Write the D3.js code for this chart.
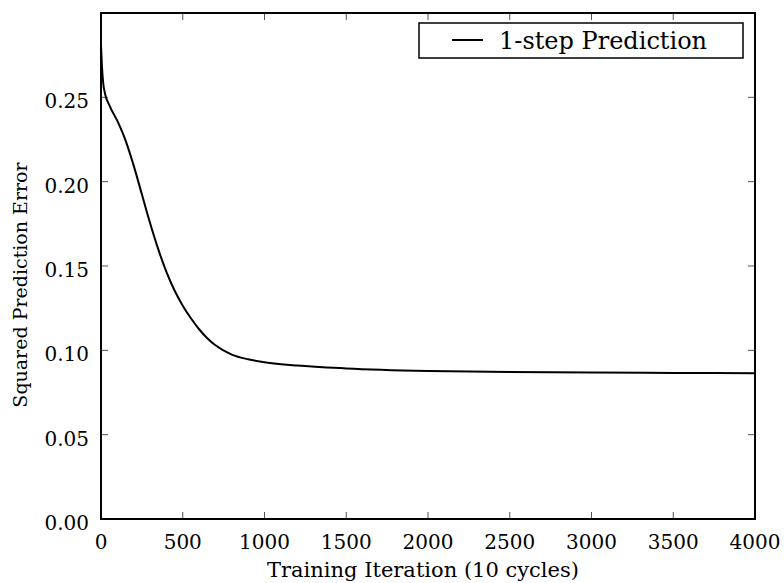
<!DOCTYPE html>
<html lang="en">
<head>
    <meta charset="UTF-8">
    <title>Squared Prediction Error</title>
    <script src="https://d3js.org/d3.v7.min.js"></script>
    <style>
        body { margin: 0; background: #fff; }
        text { font-family: "DejaVu Serif", serif; fill: #000; }
    </style>
</head>
<body>
    <svg width="784" height="583"></svg>
    <script>
        // values
        const iterations = [0, 6, 14, 25, 50, 100, 150, 200, 250, 300, 350, 400, 450, 500, 550, 600, 650, 700, 800, 900, 1000, 1200, 1500, 2000, 2500, 3000, 3500, 4000];
        const errors = [0.281, 0.268, 0.258, 0.252, 0.2455, 0.2360, 0.2245, 0.2095, 0.1925, 0.1755, 0.1600, 0.1465, 0.1355, 0.1265, 0.1190, 0.1125, 0.1072, 0.1030, 0.0975, 0.0947, 0.0930, 0.0910, 0.0893, 0.0878, 0.0872, 0.0868, 0.0866, 0.0864];
        const xTicks = [0, 500, 1000, 1500, 2000, 2500, 3000, 3500, 4000];
        const yTicks = [0, 0.05, 0.10, 0.15, 0.20, 0.25];
        const seriesName = "1-step Prediction";

        const svg = d3.select("svg");
        const pLeft = 101, pRight = 755, pTop = 13, pBottom = 519;

        const x = d3.scaleLinear().domain([0, 4000]).range([pLeft, pRight]);
        const y = d3.scaleLinear().domain([0, 0.30]).range([pBottom, pTop]);

        // ticks, inward on all four sides
        const tickLen = 7;
        const tickCol = "#555";
        const g = svg.append("g");
        xTicks.forEach(t => {
            g.append("line").attr("x1", x(t)).attr("x2", x(t))
                .attr("y1", pBottom).attr("y2", pBottom - tickLen)
                .attr("stroke", tickCol).attr("stroke-width", 1);
            g.append("line").attr("x1", x(t)).attr("x2", x(t))
                .attr("y1", pTop).attr("y2", pTop + tickLen)
                .attr("stroke", tickCol).attr("stroke-width", 1);
            g.append("text").attr("x", x(t)).attr("y", pBottom + 30)
                .attr("text-anchor", "middle").attr("font-size", 20)
                .text(t);
        });
        yTicks.forEach(t => {
            g.append("line").attr("x1", pLeft).attr("x2", pLeft + tickLen)
                .attr("y1", y(t)).attr("y2", y(t))
                .attr("stroke", tickCol).attr("stroke-width", 1);
            g.append("line").attr("x1", pRight).attr("x2", pRight - tickLen)
                .attr("y1", y(t)).attr("y2", y(t))
                .attr("stroke", tickCol).attr("stroke-width", 1);
            g.append("text").attr("x", pLeft - 12).attr("y", y(t) + 11)
                .attr("text-anchor", "end").attr("font-size", 20)
                .text(d3.format(".2f")(t));
        });

        // curve
        const line = d3.line()
            .x((d, i) => x(iterations[i]))
            .y(d => y(d))
            .curve(d3.curveMonotoneX);
        svg.append("path")
            .datum(errors)
            .attr("d", line)
            .attr("fill", "none")
            .attr("stroke", "#000")
            .attr("stroke-width", 2);

        // frame
        svg.append("rect")
            .attr("x", pLeft).attr("y", pTop)
            .attr("width", pRight - pLeft).attr("height", pBottom - pTop)
            .attr("fill", "none").attr("stroke", "#000").attr("stroke-width", 2);

        // axis labels
        svg.append("text").attr("x", 423).attr("y", 577)
            .attr("text-anchor", "middle").attr("font-size", 21)
            .text("Training Iteration (10 cycles)");
        svg.append("text")
            .attr("transform", "translate(27,285) rotate(-90)")
            .attr("text-anchor", "middle").attr("font-size", 19)
            .text("Squared Prediction Error");

        // legend
        const lg = svg.append("g");
        lg.append("rect").attr("x", 419).attr("y", 23)
            .attr("width", 324).attr("height", 35)
            .attr("fill", "#fff").attr("stroke", "#000").attr("stroke-width", 1.5);
        lg.append("line").attr("x1", 452).attr("x2", 483)
            .attr("y1", 40).attr("y2", 40)
            .attr("stroke", "#000").attr("stroke-width", 2);
        lg.append("text").attr("x", 499).attr("y", 49)
            .attr("font-size", 24).text(seriesName);
    </script>
</body>
</html>
